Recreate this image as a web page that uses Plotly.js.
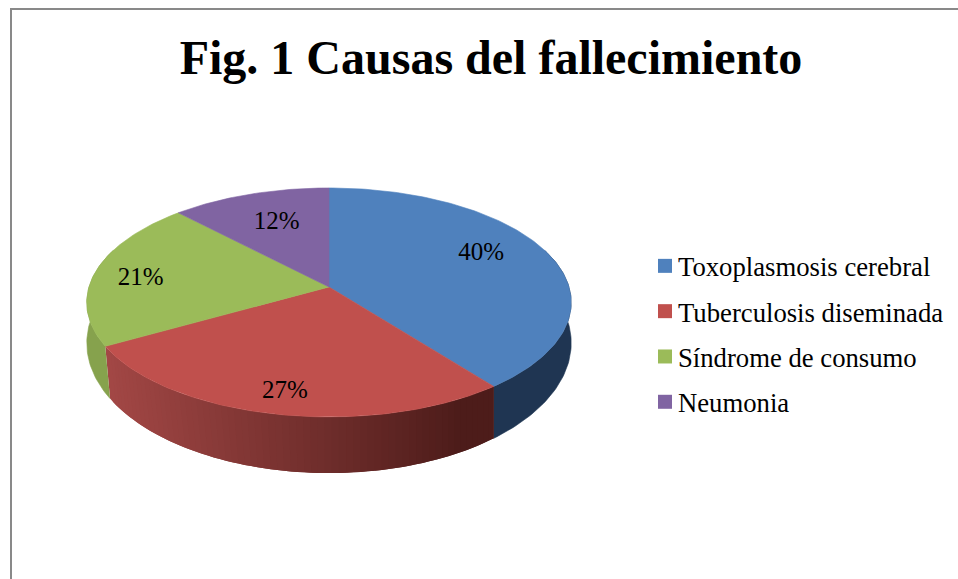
<!DOCTYPE html>
<html>
<head>
<meta charset="utf-8">
<script src="https://cdn.plot.ly/plotly-3.0.1.min.js"></script>
<style>html,body{margin:0;padding:0;background:#fff}#chart{width:958px;height:579px}</style>
</head>
<body>
<div id="chart"></div>
<script>
// Shares (labels show 40%, 27%, 21%, 12%)
const categories = ["Toxoplasmosis cerebral", "Tuberculosis diseminada", "Síndrome de consumo", "Neumonia"];
const values = [39.5, 27.3, 21.1, 12.1];
const topColors = ["#4F81BD", "#C0504D", "#9BBB59", "#8064A2"];
const wallColors = ["#1F3552", null, "#86A24D", "#5F4A7A"];
const labelNudge = [[-19, -6], [-3, 9], [-6, 4], [11, 10]];

// Perspective model of the disc (axes below are set in picture units)
const cx = 329, apexY = 287, rimX = 240, rimY = 112.4, persp = 0.135;
const baseX = 240, baseY0 = 325.5, baseRy = 127.6;
const rad = d => d * Math.PI / 180;
function topPt(deg, r) {
  const s = Math.sin(rad(deg)) * r, c = Math.cos(rad(deg)) * r, w = 1 + persp * c;
  return [cx + rimX * s / w, apexY - rimY * c / w];
}
function topPt1(d) { return topPt(d, 1); }
function basePt(deg) {
  const d = deg - 3 * Math.max(0, -Math.sin(rad(deg)));
  const s = Math.sin(rad(d)), c = Math.cos(rad(d)), w = 1 + persp * c;
  return [cx + baseX * s / w, baseY0 - baseRy * c / w];
}
function range(a, b, step) {
  const out = [], n = Math.max(1, Math.ceil((b - a) / step));
  for (let i = 0; i <= n; i++) out.push(a + (b - a) * i / n);
  return out;
}
function polygon(pts, color, noLine) {
  return {
    type: "scatter", mode: noLine ? "none" : "lines", x: pts.map(p => p[0]), y: pts.map(p => p[1]),
    fill: "toself", fillcolor: color, line: {color: color, width: 0.6},
    showlegend: false, hoverinfo: "skip"
  };
}
function redWall(x) {
  const t = Math.min(1, Math.max(0, (x - 109) / (450 - 109)));
  const mix = (a, b) => Math.round(a + (b - a) * t);
  return `rgb(${mix(162, 77)},${mix(71, 28)},${mix(69, 26)})`;
}

const total = values.reduce((a, b) => a + b, 0);
const spans = [];
values.reduce((acc, v) => { spans.push([acc / total * 360, (acc + v) / total * 360]); return acc + v; }, 0);

const traces = [];
// Side wall, behind the top surface
spans.forEach((sp, i) => {
  const a = Math.max(sp[0], 70), b = Math.min(sp[1], 290);
  if (a >= b) return;
  if (wallColors[i]) {
    const th = range(a, b, 1);
    traces.push(polygon(th.map(topPt1).concat(th.slice().reverse().map(basePt)), wallColors[i]));
  } else {
    // Shaded wall: overlapping strips, painted from the dark end to the light end
    const th = range(a, b, 1.5);
    for (let k = 0; k < th.length - 1; k++) {
      const far = th[Math.max(0, k - 1)];
      const q = [topPt1(far), topPt1(th[k]), topPt1(th[k + 1]), basePt(th[k + 1]), basePt(th[k]), basePt(far)];
      traces.push(polygon(q, redWall(basePt(th[k + 1])[0]), true));
    }
  }
});
// Top surface
spans.forEach((sp, i) => {
  const pts = [[cx, apexY]].concat(range(sp[0], sp[1], 1).map(topPt1));
  pts.push([cx, apexY]);
  traces.push(polygon(pts, topColors[i]));
});
// Percentage labels
const mids = spans.map(sp => (sp[0] + sp[1]) / 2);
const lp = mids.map((m, i) => { const p = topPt(m, 0.78); return [p[0] + labelNudge[i][0], p[1] + labelNudge[i][1]]; });
traces.push({
  type: "scatter", mode: "text", x: lp.map(p => p[0]), y: lp.map(p => p[1]),
  text: values.map(v => Math.round(v / total * 100) + "%"), textposition: "middle center",
  textfont: {family: "Liberation Serif", size: 25, color: "#000"}, showlegend: false, hoverinfo: "skip"
});
// Legend entries
categories.forEach((c, i) => traces.push({
  type: "scatter", mode: "markers", name: c, x: [null], y: [null], legendgroup: c,
  marker: {symbol: "square", size: 14, color: topColors[i]}, hoverinfo: "skip"
}));

const borderColor = "#898989";
const layout = {
  width: 958, height: 579, autosize: false,
  margin: {l: 0, r: 0, t: 0, b: 0, pad: 0, autoexpand: false},
  paper_bgcolor: "#fff", plot_bgcolor: "#fff",
  title: {text: "<b>Fig. 1 Causas del fallecimiento</b>", x: 491 / 958, xanchor: "center",
    y: 1 - 57 / 579, yanchor: "middle", yref: "container",
    font: {family: "Liberation Serif", size: 48, color: "#000"}},
  xaxis: {range: [0, 958], visible: false, fixedrange: true},
  yaxis: {range: [579, 0], visible: false, fixedrange: true},
  showlegend: true,
  legend: {x: 638 / 958, xanchor: "left", y: 1 - 242 / 579, yanchor: "top", traceorder: "grouped",
    tracegroupgap: 7.6, bgcolor: "rgba(0,0,0,0)", borderwidth: 0,
    font: {family: "Liberation Serif", size: 26.7, color: "#000"}},
  shapes: [
    {type: "line", x0: 11, x1: 11, y0: 9, y1: 579, line: {color: borderColor, width: 2}},
    {type: "line", x0: 10, x1: 958, y0: 9, y1: 9, line: {color: borderColor, width: 2}}
  ]
};
Plotly.newPlot("chart", traces, layout, {displayModeBar: false, staticPlot: true}).then(() => {
  document.querySelectorAll(".legend .legendsymbols").forEach(g => g.setAttribute("transform", "translate(7,0)"));
});
</script>
</body>
</html>
